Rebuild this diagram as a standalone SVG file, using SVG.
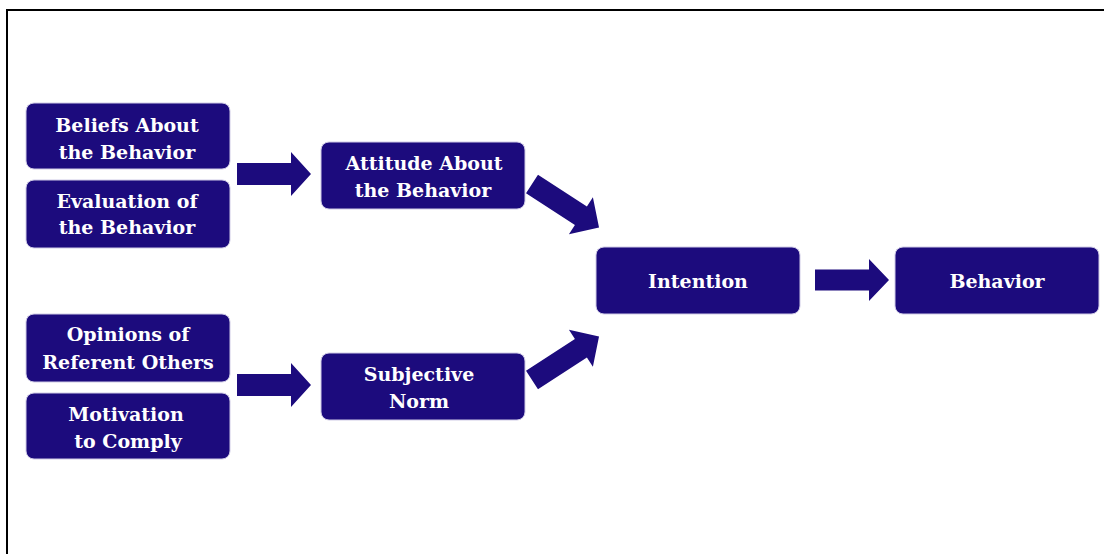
<svg xmlns="http://www.w3.org/2000/svg" width="1104" height="554" viewBox="0 0 1104 554">
  <style>
    .box { fill: #1c0b7d; stroke: #cfcbe6; stroke-width: 1; }
    .lbl { fill: #ffffff; font-family: "DejaVu Serif", "Liberation Serif", serif; font-weight: bold; font-size: 19px; text-anchor: middle; }
    .arrow { fill: #1c0b7d; }
  </style>
  <defs>
    <!-- block arrow pointing right, origin at the middle of its tail -->
    <path id="blockArrow" d="M0,-11 H54 V-22 L74,0 L54,22 V11 H0 Z"/>
  </defs>

  <rect x="7" y="10" width="1200" height="700" fill="#ffffff" stroke="#000000" stroke-width="2"/>

  <g id="connectors" class="arrow">
    <use href="#blockArrow" transform="translate(237,174)"/>
    <use href="#blockArrow" transform="translate(237,385)"/>
    <use href="#blockArrow" transform="translate(815,280) scale(1,0.95)"/>
    <use href="#blockArrow" transform="translate(532,184) rotate(33) scale(1.08,1)"/>
    <use href="#blockArrow" transform="translate(532,380) rotate(-33) scale(1.08,1)"/>
  </g>

  <g id="beliefs">
    <rect class="box" x="26" y="103" width="204" height="66" rx="8"/>
    <text class="lbl" x="127" y="132">Beliefs About</text>
    <text class="lbl" x="127" y="159">the Behavior</text>
  </g>
  <g id="evaluation">
    <rect class="box" x="26" y="180" width="204" height="68" rx="8"/>
    <text class="lbl" x="127" y="208">Evaluation of</text>
    <text class="lbl" x="127" y="234">the Behavior</text>
  </g>
  <g id="opinions">
    <rect class="box" x="26" y="314" width="204" height="68" rx="8"/>
    <text class="lbl" x="128" y="341">Opinions of</text>
    <text class="lbl" x="128" y="369">Referent Others</text>
  </g>
  <g id="motivation">
    <rect class="box" x="26" y="393" width="204" height="66" rx="8"/>
    <text class="lbl" x="126" y="421">Motivation</text>
    <text class="lbl" x="128" y="448">to Comply</text>
  </g>
  <g id="attitude">
    <rect class="box" x="321" y="142" width="204" height="67" rx="8"/>
    <text class="lbl" x="424" y="170">Attitude About</text>
    <text class="lbl" x="423" y="197">the Behavior</text>
  </g>
  <g id="subjective-norm">
    <rect class="box" x="321" y="353" width="204" height="67" rx="8"/>
    <text class="lbl" x="419" y="381">Subjective</text>
    <text class="lbl" x="419" y="408">Norm</text>
  </g>
  <g id="intention">
    <rect class="box" x="596" y="247" width="204" height="67" rx="8"/>
    <text class="lbl" x="698" y="288">Intention</text>
  </g>
  <g id="behavior">
    <rect class="box" x="895" y="247" width="204" height="67" rx="8"/>
    <text class="lbl" x="997" y="288">Behavior</text>
  </g>
</svg>
